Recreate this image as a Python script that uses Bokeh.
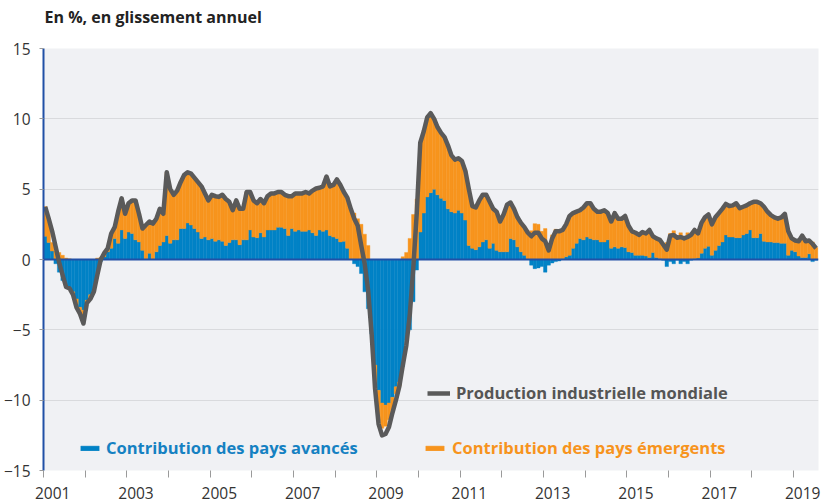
import numpy as np
from bokeh.plotting import figure
from bokeh.models import (Range1d, FixedTicker, CustomJSTickFormatter, Legend,
                          LegendItem, ColumnDataSource, Title)
from bokeh.embed import file_html
from bokeh.resources import INLINE

# ---------------- data (monthly, Jan 2001 - Jul 2019, % y/y) ----------------
start_year = 2001
series_names = ["Production industrielle mondiale",
                "Contribution des pays avancés",
                "Contribution des pays émergents"]

total = [
    3.74, 2.9, 2.0, 0.9, -0.2, -1.1, -1.95, -2.05, -2.5, -3.4, -3.85, -4.55,
    -3.1, -2.8, -2.3, -1.1, 0.0, 0.45, 0.8, 1.85, 2.3, 3.4, 4.35, 3.25,
    4.0, 4.2, 4.2, 3.25, 2.2, 2.45, 2.7, 2.55, 2.9, 3.6, 3.25, 6.2,
    5.0, 4.6, 4.9, 5.5, 6.0, 6.2, 6.1, 5.8, 5.5, 5.2, 4.7, 4.2,
    4.6, 4.5, 4.45, 4.6, 4.3, 4.1, 3.5, 4.2, 3.6, 3.6, 4.8, 4.8,
    4.2, 4.0, 4.3, 4.0, 4.5, 4.7, 4.7, 4.8, 4.8, 4.6, 4.5, 4.5,
    4.7, 4.7, 4.7, 4.8, 4.7, 4.9, 5.05, 5.1, 5.2, 5.9, 5.2, 5.3,
    5.7, 5.3, 4.8, 4.4, 3.6, 2.9, 2.4, 1.0, -0.3, -2.2, -5.3, -9.2,
    -11.7, -12.5, -12.4, -11.9, -10.9, -10.0, -9.0, -7.5, -6.1, -3.9, -0.6, 3.3,
    8.3, 9.1, 10.1, 10.4, 10.0, 9.4, 9.0, 8.7, 8.1, 7.4, 7.1, 7.2,
    7.0, 6.3, 5.0, 3.8, 3.7, 4.2, 4.6, 4.6, 4.1, 3.6, 3.4, 2.7,
    3.2, 3.9, 4.05, 3.6, 3.0, 2.6, 2.3, 1.9, 1.65, 1.9, 1.9, 1.5,
    1.3, 0.65, 1.5, 2.0, 2.0, 2.1, 2.5, 3.1, 3.3, 3.4, 3.5, 3.7,
    4.0, 4.0, 3.6, 3.4, 3.4, 3.5, 3.3, 2.7, 3.3, 2.9, 2.9, 3.1,
    2.4, 2.0, 1.9, 1.75, 1.95, 1.85, 2.1, 1.65, 1.5, 1.4, 1.05, 0.7,
    1.7, 1.75, 1.55, 1.6, 1.5, 1.6, 1.75, 2.1, 1.85, 2.6, 3.0, 3.2,
    2.5, 3.0, 3.3, 3.6, 3.95, 3.8, 3.85, 4.0, 3.65, 3.75, 3.85, 4.0,
    4.1, 4.1, 4.0, 3.75, 3.4, 3.15, 3.0, 2.9, 3.0, 3.25, 2.0, 1.5,
    1.35, 1.3, 1.7, 1.3, 1.35, 1.1, 0.8,
]

advanced = [
    1.66, 1.2, 0.6, -0.3, -0.9, -1.5, -1.9, -2.05, -2.3, -2.8, -3.4, -3.6,
    -2.9, -2.5, -2.2, -1.0, -0.15, 0.2, 0.55, 0.8, 1.5, 1.15, 2.1, 1.5,
    1.95, 1.85, 1.4, 1.25, 0.65, 0.0, 0.45, 0.0, 0.55, 1.0, 1.25, 1.7,
    1.15, 1.4, 1.4, 2.2, 2.2, 2.6, 2.45, 2.2, 1.95, 1.5, 1.6, 1.4,
    1.5, 1.3, 1.4, 1.3, 1.0, 1.2, 1.4, 1.4, 1.05, 1.4, 1.4, 2.1,
    1.6, 1.55, 1.9, 1.6, 2.1, 2.1, 2.1, 2.3, 2.3, 2.2, 1.7, 2.2,
    2.0, 2.1, 2.0, 2.0, 2.1, 1.9, 1.7, 2.1, 2.0, 2.1, 1.7, 1.6,
    1.5, 1.25, 1.3, 0.8, 0.0, -0.3, -0.5, -1.0, -2.3, -3.5, -5.3, -7.5,
    -9.3, -10.2, -10.35, -10.2, -9.8, -9.05, -8.7, -7.6, -5.7, -5.0, -3.0, -0.75,
    1.95, 3.3, 4.45, 4.75, 5.0, 4.6, 4.35, 4.2, 3.6, 3.4, 3.3, 3.5,
    3.3, 2.8, 1.0, 0.8, 0.7, 0.9, 1.25, 1.4, 0.8, 1.15, 0.65, 0.55,
    0.55, 0.55, 1.5, 1.4, 0.9, 0.55, 0.3, 0.0, -0.4, -0.65, -0.6, -0.5,
    -0.9, -0.4, -0.25, -0.15, -0.1, 0.07, 0.2, 0.3, 0.8, 1.15, 1.5, 1.4,
    1.6, 1.5, 1.4, 1.4, 1.25, 1.25, 1.4, 0.8, 0.9, 0.8, 0.9, 0.85,
    0.55, 0.5, 0.3, 0.3, 0.3, 0.25, 0.15, 0.5, 0.15, 0.07, -0.05, -0.5,
    -0.15, -0.3, -0.05, -0.3, -0.15, -0.3, -0.05, 0.07, 0.1, 0.45, 0.8, 0.95,
    0.3, 0.65, 1.0, 1.25, 1.75, 1.6, 1.6, 1.55, 1.55, 1.75, 1.85, 2.1,
    1.55, 1.55, 1.85, 1.3, 1.25, 1.25, 1.2, 1.2, 1.15, 1.15, 0.3, 0.65,
    0.55, 0.25, 0.15, 0.15, 0.4, -0.15, -0.05,
]

emerging = [
    2.1, 1.5, 0.6, 0.6, 0.5, 0.3, 0.1, 0.05, -0.1, -0.4, -0.5, -0.6,
    -0.2, -0.3, -0.1, 0.1, 0.15, 0.25, 0.25, 1.05, 0.8, 2.25, 2.25, 1.75,
    2.05, 2.35, 2.8, 2.0, 1.55, 2.45, 2.25, 2.55, 2.35, 2.6, 2.0, 4.5,
    3.85, 3.2, 3.5, 3.3, 3.8, 3.6, 3.65, 3.6, 3.55, 3.7, 3.1, 2.8,
    3.1, 3.2, 3.05, 3.3, 3.3, 2.9, 2.1, 2.8, 2.55, 2.2, 3.4, 2.7,
    2.6, 2.45, 2.4, 2.4, 2.4, 2.6, 2.6, 2.5, 2.5, 2.4, 2.8, 2.3,
    2.7, 2.6, 2.7, 2.8, 2.6, 3.0, 3.35, 3.0, 3.2, 3.8, 3.5, 3.7,
    4.2, 4.05, 3.5, 3.6, 3.5, 3.3, 2.9, 2.5, 1.8, 1.0, 0.0, -1.7,
    -2.2, -1.8, -1.5, -1.2, -0.9, -0.5, -0.3, 0.2, 0.5, 1.5, 3.2, 4.3,
    6.35, 5.8, 5.65, 5.65, 5.0, 4.8, 4.65, 4.5, 4.5, 4.0, 3.8, 3.7,
    3.7, 3.5, 4.0, 3.0, 3.0, 3.3, 3.35, 3.2, 3.3, 2.45, 2.75, 2.15,
    2.65, 3.35, 2.55, 2.2, 2.1, 2.05, 2.0, 1.9, 2.05, 2.55, 2.5, 2.0,
    2.2, 1.05, 1.75, 2.15, 2.1, 2.05, 2.3, 2.8, 2.5, 2.25, 2.0, 2.3,
    2.4, 2.5, 2.2, 2.0, 2.15, 2.25, 1.9, 1.9, 2.4, 2.1, 2.0, 2.25,
    1.85, 1.5, 1.6, 1.45, 1.65, 1.6, 1.95, 1.15, 1.35, 1.35, 1.1, 1.2,
    1.85, 2.05, 1.6, 1.9, 1.65, 1.9, 1.8, 2.05, 1.75, 2.15, 2.2, 2.25,
    2.2, 2.35, 2.3, 2.35, 2.2, 2.2, 2.25, 2.45, 2.1, 2.0, 2.0, 1.9,
    2.55, 2.55, 2.15, 2.45, 2.15, 1.9, 1.8, 1.7, 1.85, 2.1, 1.7, 0.85,
    0.8, 1.05, 1.55, 1.15, 0.95, 1.25, 0.85,
]

year_labels = [2001, 2003, 2005, 2007, 2009, 2011, 2013, 2015, 2017, 2019]
year_ticks = list(range(2001, 2020))
y_ticks = [-15, -10, -5, 0, 5, 10, 15]
title_text = "En %, en glissement annuel"

# ---------------- styling ----------------
FONT = "Open Sans"
BLUE = "#0082c6"
ORANGE = "#f7941d"
GREY = "#5a5a5a"
AXIS_BLUE = "#2150a6"
BG = "#f0f1f4"

# ---------------- derived positions (stacking with sign split) ----------------
n = len(total)
x = np.array([start_year + (i + 0.5) / 12.0 for i in range(n)])
adv = np.array(advanced)
emg = np.array(emerging)
emg_bottom = np.where(emg >= 0, np.maximum(adv, 0), np.minimum(adv, 0))
emg_top = emg_bottom + emg

src = ColumnDataSource(dict(x=x, total=np.array(total), adv=adv,
                            zero=np.zeros(n), eb=emg_bottom, et=emg_top))

p = figure(width=824, height=503, output_backend="svg", toolbar_location=None,
           x_range=Range1d(2001, 2019.6), y_range=Range1d(-15, 15),
           min_border_left=42, min_border_right=6, min_border_top=48,
           min_border_bottom=33)
p.background_fill_color = BG
p.border_fill_color = "white"
p.outline_line_color = None

# title (a blank spacer title sits between the frame and the real title)
p.title.text = title_text
p.title.align = "left"
p.title.vertical_align = "bottom"
p.title.offset = 1
p.title.standoff = 0
p.title.text_font = FONT
p.title.text_font_style = "bold"
p.title.text_font_size = "16px"
p.title.text_color = "#222222"
p.add_layout(Title(text=" ", text_font_size="2px", standoff=17), "above")

w = 1.0 / 12
r_adv = p.vbar(x="x", width=w, bottom="zero", top="adv", source=src,
               fill_color=BLUE, line_color=BLUE, line_width=0.4)
r_emg = p.vbar(x="x", width=w, bottom="eb", top="et", source=src,
               fill_color=ORANGE, line_color=ORANGE, line_width=0.4)
p.hspan(y=[0], line_color=AXIS_BLUE, line_width=2)
r_tot = p.line(x="x", y="total", source=src, line_color=GREY, line_width=4.5,
               line_join="round")

# axes
p.xaxis.ticker = FixedTicker(ticks=[yl + 0.22 for yl in year_labels],
                             minor_ticks=year_ticks)
p.xaxis.formatter = CustomJSTickFormatter(code="return String(Math.round(tick - 0.22));")
p.xaxis.major_tick_line_color = None
p.xaxis.major_tick_out = 0
p.xaxis.major_tick_in = 0
p.xaxis.minor_tick_line_color = "#9a9a9a"
p.xaxis.minor_tick_in = 0
p.xaxis.minor_tick_out = 7
p.xaxis.axis_line_color = None
p.xaxis.major_label_standoff = 9
p.xaxis.major_label_text_font = FONT
p.xaxis.major_label_text_font_size = "15.5px"
p.xaxis.major_label_text_color = "#333333"

p.yaxis.ticker = FixedTicker(ticks=y_ticks)
p.yaxis.axis_line_color = AXIS_BLUE
p.yaxis.axis_line_width = 2
p.yaxis.major_tick_line_color = "#9a9a9a"
p.yaxis.major_tick_in = 0
p.yaxis.major_tick_out = 4
p.yaxis.minor_tick_line_color = None
p.yaxis.major_label_standoff = 9
p.yaxis.major_label_text_font = FONT
p.yaxis.major_label_text_font_size = "15.5px"
p.yaxis.major_label_text_color = "#333333"

p.xgrid.visible = False
p.ygrid.ticker = FixedTicker(ticks=[-10, -5, 5, 10])
p.ygrid.grid_line_color = "#d9dadd"
p.ygrid.grid_line_width = 1


def make_legend(label, renderer, color, loc, gh, standoff):
    return Legend(items=[LegendItem(label=label, renderers=[renderer])], location=loc,
                  orientation="horizontal", glyph_width=23, glyph_height=gh,
                  label_standoff=standoff, padding=0, margin=0, spacing=0,
                  label_text_font=FONT, label_text_font_style="bold",
                  label_text_font_size="16.5px", label_text_color=color,
                  background_fill_alpha=0, border_line_alpha=0)


p.add_layout(make_legend(series_names[0], r_tot, "#555555", (384, 66), 20, 6))
p.add_layout(make_legend(series_names[1], r_adv, "#1581c2", (35, 11), 6, 5))
p.add_layout(make_legend(series_names[2], r_emg, ORANGE, (380, 11), 6, 6))

open("out.html", "w").write(file_html(p, INLINE))
